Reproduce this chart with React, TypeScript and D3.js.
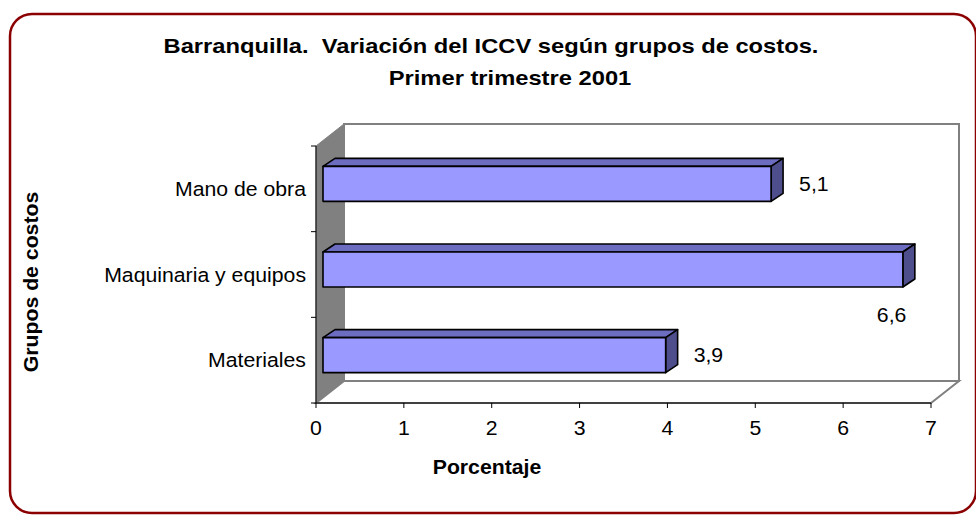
import React from "react";
import * as d3 from "d3";

const categories = ["Mano de obra", "Maquinaria y equipos", "Materiales"];
const values = [5.1, 6.6, 3.9];
const valueLabels = ["5,1", "6,6", "3,9"];
const xTicks = [0, 1, 2, 3, 4, 5, 6, 7];
const titleLines = ["Barranquilla.  Variación del ICCV según grupos de costos.", "Primer trimestre 2001"];
const yTitle = "Grupos de costos";
const xTitle = "Porcentaje";

const FONT = "Arial, 'Liberation Sans', sans-serif";
const FS = 19.5;
const SX = 1.09;
const TFS = 21;
const TSX = 1.13;

export default function App() {
  const W = 976, H = 515;
  const x = d3.scaleLinear().domain([0, 7]).range([316, 931]);
  const y = d3.scaleBand<string>().domain(categories).range([146, 403]).paddingInner(0).paddingOuter(0);
  const DX = 28, DY = -22; // floor depth
  const bx = 7, by = -5; // bar front offset
  const tdx = 12, tdy = -8; // bar depth
  const barH = 35;
  const x0 = x(0), x7 = x(7);
  const yTop = 146, yBot = 403;
  const gray = "#808080";

  const pts = (a: number[][]) => a.map((p) => p.join(",")).join(" ");

  return (
    <svg width={W} height={H} style={{ position: "absolute", left: 0, top: 0, background: "#fff" }} fontFamily={FONT}>
      <rect x={10} y={14} width={966} height={499} rx={22} ry={22} fill="#fff" stroke="#8b0000" strokeWidth={2.5} />
      {/* Title */}
      {titleLines.map((t, i) => (
        <text key={i} transform={`translate(${i === 0 ? 491 : 510},${i === 0 ? 53 : 85}) scale(${TSX},1)`} textAnchor="middle" fontSize={TFS} fontWeight="bold" style={{ whiteSpace: "pre" }}>{t}</text>
      ))}
      {/* back wall */}
      <rect x={x0 + DX} y={yTop + DY} width={x7 - x0} height={yBot - yTop} fill="#fff" stroke={gray} strokeWidth={2} />
      {/* left wall */}
      <polygon points={pts([[x0, yTop], [x0 + DX, yTop + DY], [x0 + DX, yBot + DY], [x0, yBot]])} fill={gray} stroke={gray} strokeWidth={1} />
      {/* floor */}
      <polygon points={pts([[x0, yBot], [x7, yBot], [x7 + DX, yBot + DY], [x0 + DX, yBot + DY]])} fill="#fff" stroke={gray} strokeWidth={2} />
      {/* axes */}
      <line x1={x0} y1={yTop} x2={x0} y2={yBot} stroke="#000" strokeWidth={1} />
      <line x1={x0} y1={yBot} x2={x7} y2={yBot} stroke="#000" strokeWidth={1} />
      {[...categories.map((c) => y(c) as number), yBot].map((t, i) => (
        <line key={i} x1={x0 - 5} x2={x0} y1={t} y2={t} stroke="#000" strokeWidth={1} />
      ))}
      {xTicks.map((t) => (
        <g key={t}>
          <line x1={x(t)} x2={x(t)} y1={yBot} y2={yBot + 5} stroke="#000" strokeWidth={1} />
          <text transform={`translate(${x(t)},${435}) scale(${SX},1)`} textAnchor="middle" fontSize={FS}>{t}</text>
        </g>
      ))}
      {/* bars */}
      {categories.map((c, i) => {
        const cy = (y(c) as number) + y.bandwidth() / 2 + by;
        const l = x0 + bx;
        const r = x(values[i]) + bx;
        const t = cy - barH / 2, b = cy + barH / 2;
        return (
          <g key={c} stroke="#000" strokeWidth={1.6} strokeLinejoin="round">
            <polygon points={pts([[l, t], [l + tdx, t + tdy], [r + tdx, t + tdy], [r, t]])} fill="#6c6cc0" />
            <polygon points={pts([[r, t], [r + tdx, t + tdy], [r + tdx, b + tdy], [r, b]])} fill="#4e4e8c" />
            <rect x={l} y={t} width={r - l} height={barH} fill="#9999ff" />
          </g>
        );
      })}
      {/* category labels */}
      {categories.map((c) => (
        <text key={c} transform={`translate(306,${(y(c) as number) + y.bandwidth() / 2 + 7}) scale(${SX},1)`} textAnchor="end" fontSize={FS}>{c}</text>
      ))}
      {/* value labels */}
      {categories.map((c, i) => {
        const cy = (y(c) as number) + y.bandwidth() / 2 + by;
        const r = x(values[i]) + bx + tdx;
        const below = i === 1;
        const lx = below ? r - 38 : r + 16;
        const ly = below ? cy + 52 : cy + 7;
        return (
          <text key={c} transform={`translate(${lx},${ly}) scale(${SX},1)`} fontSize={FS}>{valueLabels[i]}</text>
        );
      })}
      {/* axis titles */}
      <text transform={`translate(38,282) rotate(-90) scale(${SX},1)`} textAnchor="middle" fontSize={FS} fontWeight="bold">{yTitle}</text>
      <text transform={`translate(487,474) scale(${SX},1)`} textAnchor="middle" fontSize={FS} fontWeight="bold">{xTitle}</text>
    </svg>
  );
}
